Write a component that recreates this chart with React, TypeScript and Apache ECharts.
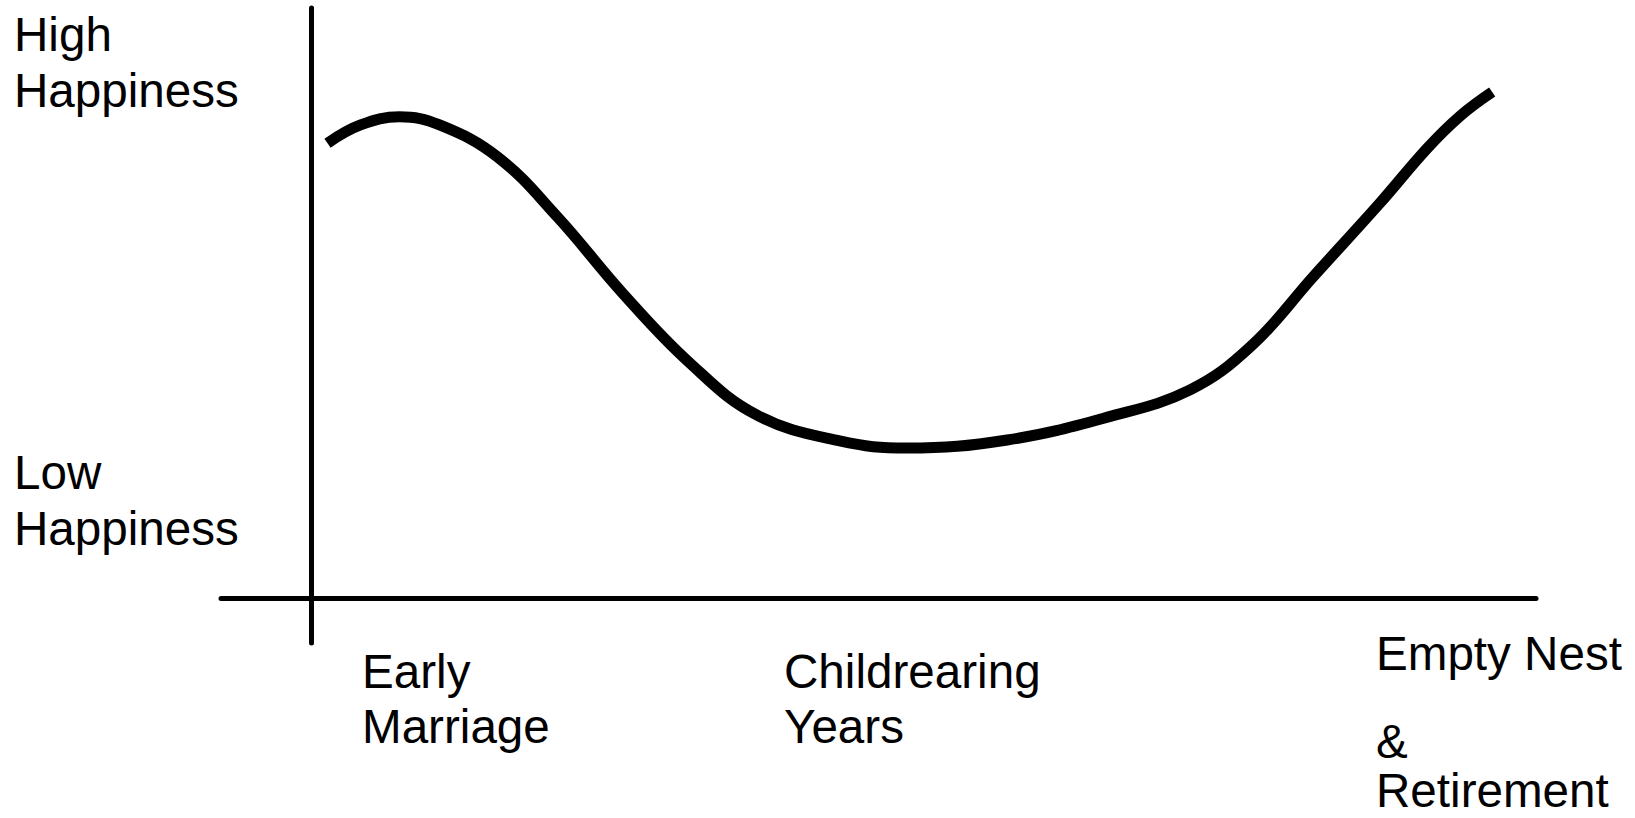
import React, { useEffect, useRef } from "react";
import * as echarts from "echarts";

// Family life cycle stage (0–100) and marital happiness (0–100)
const stageX = [1.4, 4.2, 7.5, 10.9, 15.8, 20.9, 26.4, 32.1, 37.8, 44.8, 50.5, 59.0, 67.5, 74.5, 79.7, 85.0, 90.6, 94.6, 97.4, 100.1];
const happinessY = [89.9, 93.5, 95.1, 93.5, 87.2, 75.3, 60.3, 46.5, 36.2, 31.1, 29.7, 31.3, 35.8, 41.2, 49.9, 63.7, 78.1, 88.9, 95.3, 100];

const yLabels = [["High", "Happiness"], ["Low", "Happiness"]];
const xLabels = [["Early", "Marriage"], ["Childrearing", "Years"], ["Empty Nest", "&", "Retirement"]];

export default function App() {
  const ref = useRef<HTMLDivElement>(null);
  useEffect(() => {
    if (!ref.current) return;
    const chart = echarts.init(ref.current, null, { renderer: "svg" });

    // layout (pixels)
    const W = 1635, H = 818;
    const axL = 221, axR = 1536, axT = 8, axB = 643;
    const x0px = 311, y0px = 598.5;
    const pxPerX = 11.8, pxPerY = 5.065;
    const xMin = -(x0px - axL) / pxPerX;
    const xMax = (axR - x0px) / pxPerX;
    const yMin = -(axB - y0px) / pxPerY;
    const yMax = (y0px - axT) / pxPerY;

    const font = "Liberation Sans, Arial, Helvetica, sans-serif";
    const fs = 47.6;
    const mid = 16.5; // baseline -> middle offset
    const mk = (t: string, x: number, baseline: number) => ({
      type: "text",
      x,
      y: baseline - mid,
      style: {
        text: t,
        fontSize: fs,
        fontFamily: font,
        fill: "#000",
        align: "left",
        verticalAlign: "middle",
        lineHeight: 44,
      },
    });

    const yLabelPos = [
      { x: 14, base: [51, 107] },
      { x: 14, base: [489, 545] },
    ];
    const xLabelPos = [
      { x: 362, base: [688, 743] },
      { x: 784, base: [688, 743] },
      { x: 1376, base: [670, 758, 807] },
    ];
    const texts: any[] = [];
    yLabels.forEach((lines, i) => lines.forEach((t, j) => texts.push(mk(t, yLabelPos[i].x, yLabelPos[i].base[j]))));
    xLabels.forEach((lines, i) => lines.forEach((t, j) => texts.push(mk(t, xLabelPos[i].x, xLabelPos[i].base[j]))));

    chart.setOption({
      animation: false,
      backgroundColor: "#fff",
      grid: { left: axL, right: W - axR, top: axT, bottom: H - axB, containLabel: false },
      xAxis: {
        type: "value",
        min: xMin,
        max: xMax,
        axisLine: { show: true, onZero: true, lineStyle: { color: "#000", width: 5 } },
        axisTick: { show: false },
        axisLabel: { show: false },
        splitLine: { show: false },
      },
      yAxis: {
        type: "value",
        min: yMin,
        max: yMax,
        axisLine: { show: true, onZero: true, lineStyle: { color: "#000", width: 5 } },
        axisTick: { show: false },
        axisLabel: { show: false },
        splitLine: { show: false },
      },
      series: [
        {
          type: "line",
          data: stageX.map((x, i) => [x, happinessY[i]]),
          smooth: 0.4,
          showSymbol: false,
          symbol: "none",
          lineStyle: { color: "#000", width: 11, cap: "butt", join: "round" },
          clip: false,
        },
      ],
      graphic: texts,
    });
    return () => chart.dispose();
  }, []);
  return <div ref={ref} style={{ position: "fixed", left: 0, top: 0, width: 1635, height: 818 }} />;
}
